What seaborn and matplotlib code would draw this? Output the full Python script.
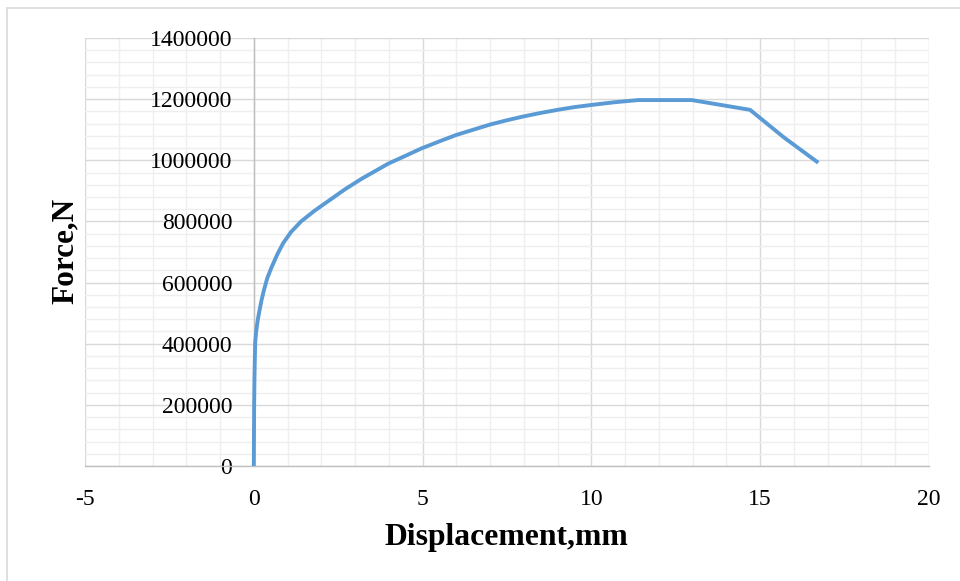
import matplotlib
matplotlib.use("Agg")
import matplotlib.pyplot as plt
from matplotlib.ticker import MultipleLocator
from matplotlib.patches import Rectangle
import seaborn as sns
import pandas as pd

displacement = [0, 0.005, 0.01, 0.02, 0.04, 0.07, 0.12, 0.18, 0.23, 0.3, 0.4,
                0.53, 0.7, 0.87, 1.1, 1.4, 1.8, 2.25, 2.7, 3.2, 3.6, 4.0, 4.5,
                4.97, 5.5, 6.0, 6.5, 7.0, 7.5, 7.97, 8.5, 9.0, 9.5, 10.0, 10.7,
                11.39, 12.97, 14.7, 15.7, 16.72]
force = [0, 100000, 200000, 291000, 402000, 440000, 480000, 515000, 543000,
         575000, 615000, 651000, 693000, 729000, 765000, 800000, 835000,
         870000, 905000, 940000, 965000, 990000, 1015000, 1039000, 1062000,
         1083000, 1100000, 1117000, 1131000, 1143000, 1155000, 1165000,
         1174000, 1181000, 1190000, 1197000, 1197000, 1165000, 1075000, 992000]
x_ticks = [-5, 0, 5, 10, 15, 20]
y_ticks = [0, 200000, 400000, 600000, 800000, 1000000, 1200000, 1400000]

sns.set_style("white")
plt.rcParams['font.family'] = ['Liberation Serif', 'DejaVu Serif']
plt.rcParams['text.color'] = 'black'

df = pd.DataFrame({"Displacement": displacement, "Force": force})

fig = plt.figure(figsize=(9.6, 5.81), dpi=100)
# chart area border
fig.patches.append(Rectangle((7 / 960, -0.05), 1.2, 1 - 8 / 581 + 0.05,
                             transform=fig.transFigure, fill=False,
                             edgecolor="#d9d9d9", linewidth=1.2, zorder=0))
ax = fig.add_axes([85 / 960, 1 - 466 / 581, (929 - 85) / 960, (466 - 38) / 581])

sns.lineplot(data=df, x="Displacement", y="Force", sort=False, ax=ax,
             color="#5b9bd5", linewidth=2.8, zorder=5,
             solid_joinstyle="round", solid_capstyle="butt")

ax.set_xlim(-5, 20)
ax.set_ylim(0, 1400000)
ax.set_xticks(x_ticks)
ax.set_yticks(y_ticks)
ax.set_xticklabels([str(v) for v in x_ticks])
ax.set_yticklabels([str(v) for v in y_ticks])
ax.xaxis.set_minor_locator(MultipleLocator(1))
ax.yaxis.set_minor_locator(MultipleLocator(40000))

ax.grid(which="major", color="#d9d9d9", linewidth=1.0, zorder=1)
ax.grid(which="minor", color="#efefef", linewidth=1.0, zorder=0.5)
ax.set_axisbelow(True)

for s in ["top", "right"]:
    ax.spines[s].set_visible(False)
ax.spines["left"].set_position(("data", 0))
ax.spines["left"].set_color("#bfbfbf")
ax.spines["bottom"].set_color("#bfbfbf")
ax.spines["left"].set_linewidth(1.0)
ax.spines["bottom"].set_linewidth(1.0)

ax.tick_params(axis="both", which="major", direction="out", length=4.5,
               width=1.0, color="#bfbfbf", labelsize=17, labelcolor="black")
ax.tick_params(axis="y", which="major", pad=11)
ax.tick_params(axis="x", which="major", pad=12)
ax.tick_params(which="minor", length=0)

ax.set_xlabel("")
ax.set_ylabel("")
fig.text(506 / 960, 1 - 545 / 581, "Displacement,mm", ha="center", va="baseline",
         fontsize=22.8, fontweight="bold", color="black")
fig.text(73 / 960, 1 - 251 / 581, "Force,N", ha="center", va="baseline",
         rotation=90, rotation_mode="anchor", fontsize=22.5, fontweight="bold",
         color="black")

fig.savefig("out.png", dpi=100)
